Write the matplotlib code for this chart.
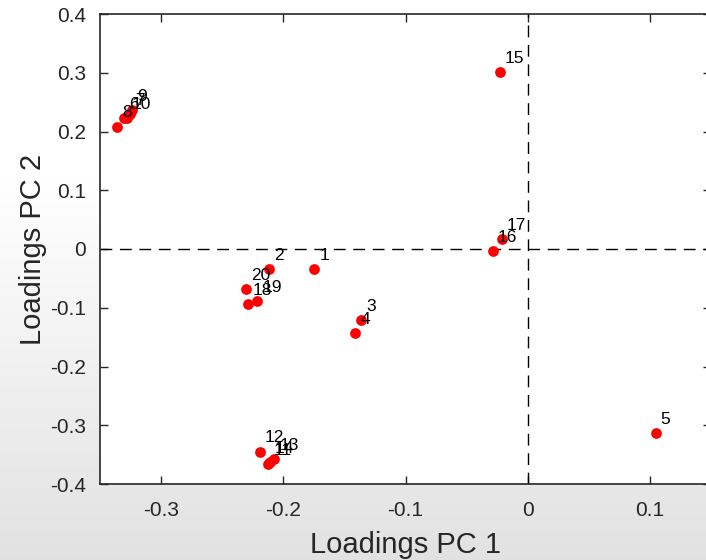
import numpy as np
import matplotlib
matplotlib.use("Agg")
import matplotlib.pyplot as plt

labels = [str(i) for i in range(1, 21)]
pc1 = [-0.1746, -0.2115, -0.1361, -0.1410, 0.1049, -0.3303, -0.3254, -0.3361, -0.3238, -0.3279,
       -0.2123, -0.2189, -0.2074, -0.2107, -0.0230, -0.0287, -0.0213, -0.2287, -0.2213, -0.2303]
pc2 = [-0.0341, -0.0341, -0.1212, -0.1433, -0.3131, 0.2231, 0.2290, 0.2085, 0.2368, 0.2238,
       -0.3652, -0.3447, -0.3567, -0.3618, 0.3020, -0.0034, 0.0171, -0.0939, -0.0887, -0.0683]
xticks = [-0.3, -0.2, -0.1, 0, 0.1]
xticklabels = ["-0.3", "-0.2", "-0.1", "0", "0.1"]
yticks = [-0.4, -0.3, -0.2, -0.1, 0, 0.1, 0.2, 0.3, 0.4]
yticklabels = ["-0.4", "-0.3", "-0.2", "-0.1", "0", "0.1", "0.2", "0.3", "0.4"]

plt.rcParams['font.family'] = ['Liberation Sans', 'DejaVu Sans']
fig = plt.figure(figsize=(7.06, 5.6), dpi=100)

# background gradient
bg = fig.add_axes([0, 0, 1, 1], zorder=-10)
H = 560
rows = np.arange(H)
vals = np.where(rows < 180, 1.0, 1.0 - (rows - 180) / (H - 180) * 0.115)
img = np.repeat(vals[:, None], 10, axis=1)
bg.imshow(np.dstack([img, img, img]), aspect='auto', extent=[0, 1, 0, 1], origin='upper')
bg.axis('off')

ax = fig.add_axes([100 / 706, 76 / 560, 611 / 706, 470 / 560])
ax.set_facecolor('white')
ax.scatter(pc1, pc2, s=60, color='#ff0000', zorder=3, linewidths=0)
for lab, x, y in zip(labels, pc1, pc2):
    ax.text(x + 0.004, y + 0.023, lab, fontsize=12.5, color='black', ha='left', va='center', zorder=4)

ax.axhline(0, color='black', linestyle=(0, (8.5, 5.5)), linewidth=1.0, zorder=2)
ax.axvline(0, color='black', linestyle=(0, (8.5, 5.5)), linewidth=1.0, zorder=2)

ax.set_xlim(-0.35, 0.15)
ax.set_ylim(-0.4, 0.4)
ax.set_xticks(xticks)
ax.set_xticklabels(xticklabels)
ax.set_yticks(yticks)
ax.set_yticklabels(yticklabels)
ax.tick_params(direction='in', length=6, width=1, colors='#262626', labelsize=15,
               top=True, right=True, pad=10)
ax.tick_params(axis='x', pad=12)
for sp in ax.spines.values():
    sp.set_color('#262626')
    sp.set_linewidth(1.2)
ax.set_xlabel('Loadings PC 1', fontsize=21, color='#262626', labelpad=8)
ax.set_ylabel('Loadings PC 2', fontsize=21, color='#262626', labelpad=2)

fig.savefig('out.png', dpi=100)
